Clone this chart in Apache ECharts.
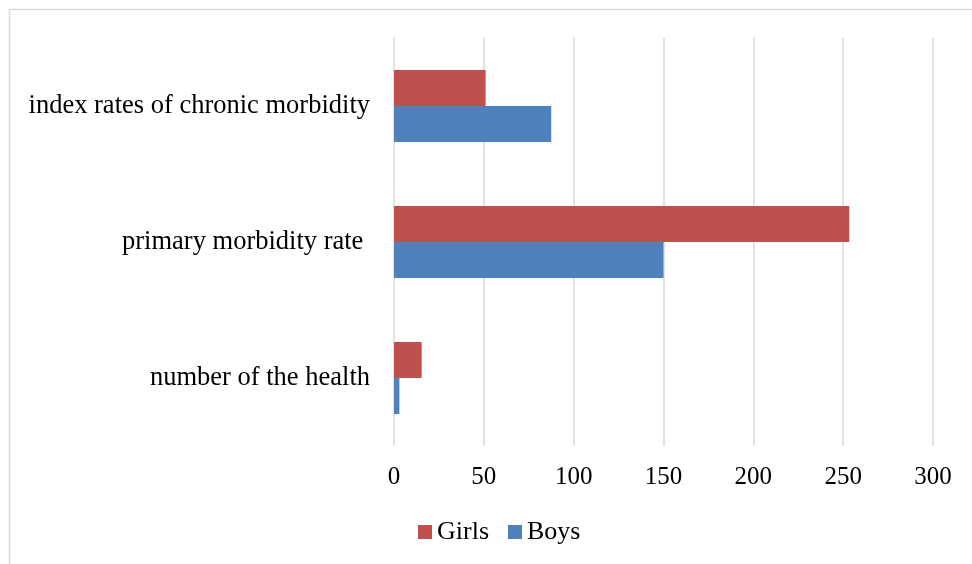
<!DOCTYPE html>
<html>
<head>
<meta charset="utf-8">
<script src="https://cdn.jsdelivr.net/npm/echarts@6/dist/echarts.min.js"></script>
<style>
html,body{margin:0;padding:0;background:#fff;}
#chart{width:972px;height:564px;}
</style>
</head>
<body>
<div id="chart"></div>
<script>
var categories = ["number of the health", "primary morbidity rate ", "index rates of chronic morbidity"];
var girls = [15.4, 253.4, 51];
var boys = [3, 150, 87.5];
var seriesNames = ["Girls", "Boys"];
var xTicks = { min: 0, max: 300, interval: 50 };

var FONT = "'Liberation Serif', 'Times New Roman', serif";
var chart = echarts.init(document.getElementById('chart'), null, {renderer: 'canvas'});
chart.setOption({
  animation: false,
  backgroundColor: '#fff',
  graphic: [
    {type: 'line', shape: {x1: 9.5, y1: 9.5, x2: 972, y2: 9.5}, style: {stroke: '#d9d9d9', lineWidth: 1.5}},
    {type: 'line', shape: {x1: 9.5, y1: 9.5, x2: 9.5, y2: 564}, style: {stroke: '#d9d9d9', lineWidth: 1.5}}
  ],
  grid: {left: 394, right: 39, top: 38, bottom: 118, containLabel: false},
  legend: {
    data: seriesNames,
    left: 418,
    top: 519,
    padding: 0,
    itemWidth: 14,
    itemHeight: 14,
    itemGap: 19,
    icon: 'rect',
    textStyle: {fontFamily: FONT, fontSize: 26, color: '#000'}
  },
  xAxis: {
    type: 'value',
    min: xTicks.min,
    max: xTicks.max,
    interval: xTicks.interval,
    axisLine: {show: false},
    axisTick: {show: false},
    splitLine: {show: true, lineStyle: {color: '#d9d9d9', width: 1.5}},
    axisLabel: {fontFamily: FONT, fontSize: 25, color: '#000', margin: 19}
  },
  yAxis: {
    type: 'category',
    data: categories,
    axisLine: {show: false},
    axisTick: {show: false},
    axisLabel: {fontFamily: FONT, fontSize: 26.5, color: '#000', margin: 24, padding: [5, 0, 0, 0]}
  },
  series: [
    {name: seriesNames[0], type: 'bar', data: girls, itemStyle: {color: '#C0504D'}, barGap: '0%', barCategoryGap: '47%'},
    {name: seriesNames[1], type: 'bar', data: boys, itemStyle: {color: '#4F81BD'}, barGap: '0%', barCategoryGap: '47%'}
  ]
});
</script>
</body>
</html>
